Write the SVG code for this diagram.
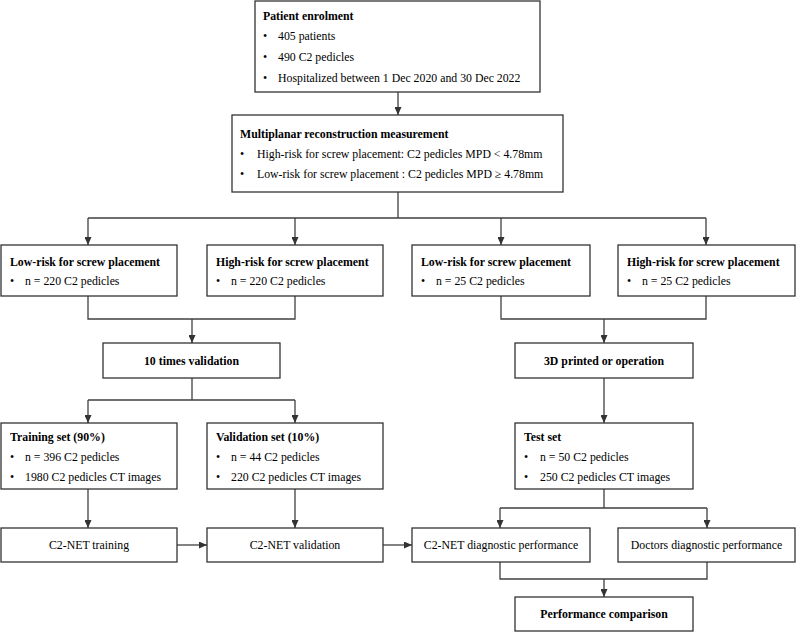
<svg xmlns="http://www.w3.org/2000/svg" width="796" height="632" viewBox="0 0 796 632">
<defs>
<marker id="ah" markerUnits="userSpaceOnUse" markerWidth="8" markerHeight="7" refX="8" refY="3.5" orient="auto">
<path d="M0,0 L8,3.5 L0,7 Z" fill="#333"/>
</marker>
<style>
.box{fill:#fff;stroke:#333;stroke-width:1.3}
.ln{fill:none;stroke:#404040;stroke-width:1.3}
.arr{fill:none;stroke:#404040;stroke-width:1.3;marker-end:url(#ah)}
text{font-family:"Liberation Serif","Times New Roman",serif;font-size:11.8px;fill:#000}
.b{font-weight:bold}
.c{text-anchor:middle}
</style>
</defs>
<rect width="796" height="632" fill="#fff"/>
<g id="connectors">
<path class="arr" d="M398,92 V115"/>
<path class="ln" d="M398,192 V218 M88,218 H706"/>
<path class="arr" d="M88,218 V245"/>
<path class="arr" d="M295,218 V245"/>
<path class="arr" d="M501,218 V245"/>
<path class="arr" d="M706,218 V245"/>
<path class="ln" d="M88,296 V319 H295 V296"/>
<path class="arr" d="M192,319 V343"/>
<path class="ln" d="M501,296 V319 H706 V296"/>
<path class="arr" d="M604,319 V343"/>
<path class="ln" d="M192,378 V400 M88,400 H295"/>
<path class="arr" d="M88,400 V423"/>
<path class="arr" d="M295,400 V423"/>
<path class="arr" d="M604,378 V423"/>
<path class="arr" d="M88,489 V528"/>
<path class="arr" d="M295,489 V528"/>
<path class="ln" d="M604,489 V508 M500,508 H707"/>
<path class="arr" d="M500,508 V528"/>
<path class="arr" d="M707,508 V528"/>
<path class="arr" d="M177,545 H207"/>
<path class="arr" d="M383,545 H412"/>
<path class="ln" d="M500,562 V579 H707 V562"/>
<path class="arr" d="M604,579 V597"/>
</g>
<g id="enrolment">
<rect class="box" x="255" y="1" width="285" height="91"/>
<text class="b" x="263" y="20">Patient enrolment</text>
<text x="263" y="40">•</text><text x="278" y="40">405 patients</text>
<text x="263" y="61">•</text><text x="278" y="61">490 C2 pedicles</text>
<text x="263" y="82">•</text><text x="278" y="82">Hospitalized between 1 Dec 2020 and 30 Dec 2022</text>
</g>
<g id="mpr">
<rect class="box" x="232" y="115" width="331" height="77"/>
<text class="b" x="240" y="138">Multiplanar reconstruction measurement</text>
<text x="240" y="158">•</text><text x="257" y="158">High-risk for screw placement: C2 pedicles MPD &lt; 4.78mm</text>
<text x="240" y="178">•</text><text x="257" y="178">Low-risk for screw placement : C2 pedicles MPD ≥ 4.78mm</text>
</g>
<g id="low1">
<rect class="box" x="1" y="245" width="176" height="51"/>
<text class="b" x="10" y="266">Low-risk for screw placement</text>
<text x="10" y="285">•</text><text x="25" y="285">n = 220 C2 pedicles</text>
</g>
<g id="high1">
<rect class="box" x="207" y="245" width="176" height="51"/>
<text class="b" x="216" y="266">High-risk for screw placement</text>
<text x="216" y="285">•</text><text x="231" y="285">n = 220 C2 pedicles</text>
</g>
<g id="low2">
<rect class="box" x="412" y="245" width="178" height="51"/>
<text class="b" x="421" y="266">Low-risk for screw placement</text>
<text x="421" y="285">•</text><text x="436" y="285">n = 25 C2 pedicles</text>
</g>
<g id="high2">
<rect class="box" x="618" y="245" width="177" height="51"/>
<text class="b" x="627" y="266">High-risk for screw placement</text>
<text x="627" y="285">•</text><text x="642" y="285">n = 25 C2 pedicles</text>
</g>
<g id="tenfold">
<rect class="box" x="103" y="343" width="177" height="35"/>
<text class="b c" x="191.5" y="365">10 times validation</text>
</g>
<g id="printed">
<rect class="box" x="515" y="343" width="178" height="35"/>
<text class="b c" x="604" y="365">3D printed or operation</text>
</g>
<g id="training">
<rect class="box" x="1" y="423" width="176" height="66"/>
<text class="b" x="10" y="441">Training set (90%)</text>
<text x="10" y="461">•</text><text x="25" y="461">n = 396 C2 pedicles</text>
<text x="10" y="481">•</text><text x="25" y="481">1980 C2 pedicles CT images</text>
</g>
<g id="validation">
<rect class="box" x="207" y="423" width="176" height="66"/>
<text class="b" x="216" y="441">Validation set (10%)</text>
<text x="216" y="461">•</text><text x="231" y="461">n = 44 C2 pedicles</text>
<text x="216" y="481">•</text><text x="231" y="481">220 C2 pedicles CT images</text>
</g>
<g id="testset">
<rect class="box" x="515" y="423" width="178" height="66"/>
<text class="b" x="524" y="441">Test set</text>
<text x="524" y="461">•</text><text x="540" y="461">n = 50 C2 pedicles</text>
<text x="524" y="481">•</text><text x="540" y="481">250 C2 pedicles CT images</text>
</g>
<g id="c2train">
<rect class="box" x="1" y="528" width="176" height="34"/>
<text class="c" x="89" y="549">C2-NET training</text>
</g>
<g id="c2val">
<rect class="box" x="207" y="528" width="176" height="34"/>
<text class="c" x="295" y="549">C2-NET validation</text>
</g>
<g id="c2diag">
<rect class="box" x="412" y="528" width="178" height="34"/>
<text class="c" x="501" y="549">C2-NET diagnostic performance</text>
</g>
<g id="doctors">
<rect class="box" x="618" y="528" width="177" height="34"/>
<text class="c" x="706.5" y="549">Doctors diagnostic performance</text>
</g>
<g id="comparison">
<rect class="box" x="515" y="597" width="178" height="34"/>
<text class="b c" x="604" y="618">Performance comparison</text>
</g>
</svg>
